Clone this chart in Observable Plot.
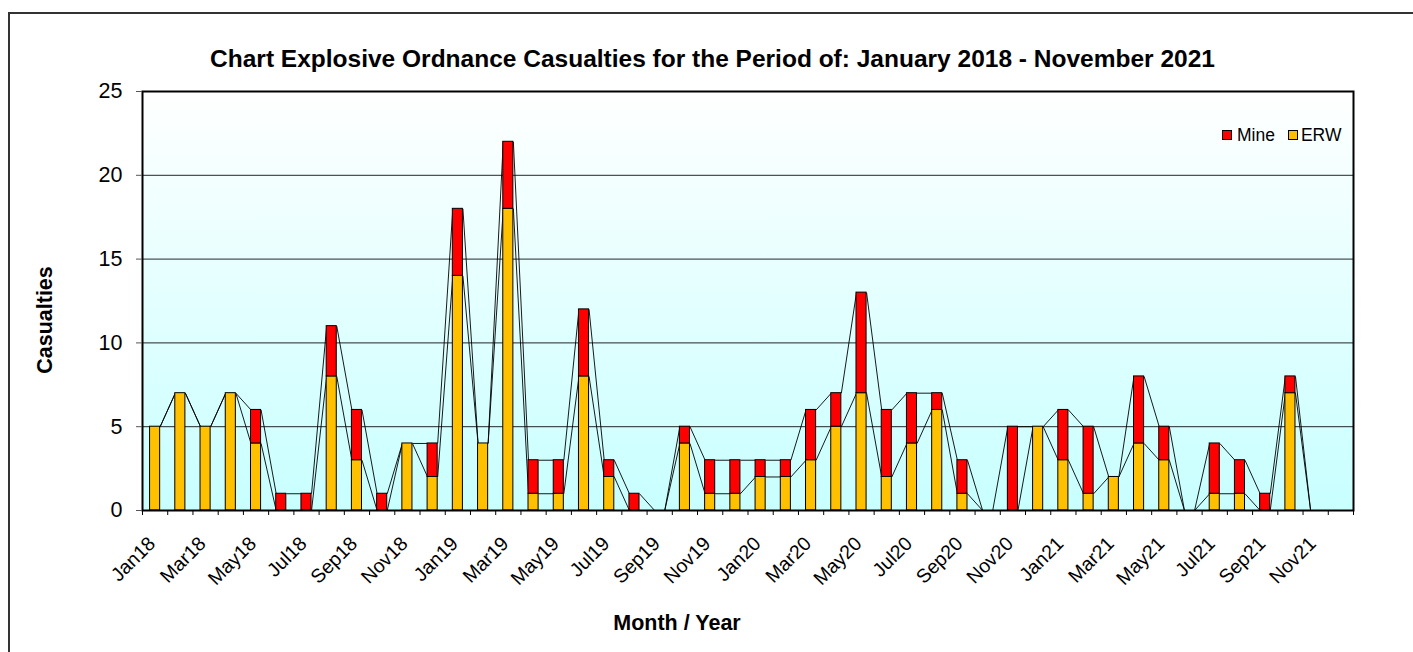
<!DOCTYPE html>
<html><head><meta charset="utf-8">
<script src="https://cdn.jsdelivr.net/npm/d3@7"></script>
<script src="https://cdn.jsdelivr.net/npm/@observablehq/plot@0.6"></script>
<style>
body{margin:0;width:1413px;height:652px;overflow:hidden;background:#fff;font-family:"Liberation Sans",Arial,sans-serif;position:relative}
#frame{position:absolute;left:8px;top:12px;width:1420px;height:660px;border:2px solid #333;box-sizing:border-box}
#title{position:absolute;left:0;width:1425px;top:45px;text-align:center;font-weight:bold;font-size:24.5px;line-height:28px}
#chart{position:absolute;left:0;top:0}
#ylab{position:absolute;left:45px;top:320px;transform:translate(-50%,-50%) rotate(-90deg);font-weight:bold;font-size:21.5px;white-space:nowrap}
#xlab{position:absolute;left:677px;top:623px;transform:translate(-50%,-50%);font-weight:bold;font-size:21.5px;white-space:nowrap}
#legend{position:absolute;left:1222px;top:125px;font-size:17.5px;display:flex;align-items:center;line-height:20px}
.sw{width:8px;height:8px;border:1px solid #000;display:inline-block;margin-right:5px}
</style></head><body>
<div id="frame"></div>
<div id="title">Chart Explosive Ordnance Casualties for the Period of: January 2018 - November 2021</div>
<div id="chart"></div>
<div id="ylab">Casualties</div>
<div id="xlab">Month / Year</div>
<div id="legend"><span class="sw" style="background:#FF0000"></span>Mine<span class="sw" style="background:#FFC000;margin-left:13px;margin-right:3px"></span>ERW</div>
<script>
const months = ["Jan18","Feb18","Mar18","Apr18","May18","Jun18","Jul18","Aug18","Sep18","Oct18","Nov18","Dec18",
  "Jan19","Feb19","Mar19","Apr19","May19","Jun19","Jul19","Aug19","Sep19","Oct19","Nov19","Dec19",
  "Jan20","Feb20","Mar20","Apr20","May20","Jun20","Jul20","Aug20","Sep20","Oct20","Nov20","Dec20",
  "Jan21","Feb21","Mar21","Apr21","May21","Jun21","Jul21","Aug21","Sep21","Oct21","Nov21","Dec21"];
const erw = [5,7,5,7,4,0,0,8,3,0,4,2, 14,4,18,1,1,8,2,0,0,4,1,1, 2,2,3,5,7,2,4,6,1,0,0,5, 3,1,2,4,3,0,1,1,0,7,0,0];
const mine = [0,0,0,0,2,1,1,3,3,1,0,2, 4,0,4,2,2,4,1,1,0,1,2,2, 1,1,3,2,6,4,3,1,2,0,5,0, 3,4,0,4,2,0,3,2,1,1,0,0];
const yTicks = [0,5,10,15,20,25];
const gridValues = [5,10,15,20];

const idx = d3.range(months.length);
const total = idx.map(i => erw[i] + mine[i]);
const half = 0.2;

const background = (index, scales, values, dims) => {
  const g = d3.create("svg:g");
  const lg = g.append("defs").append("linearGradient").attr("id","bggrad")
    .attr("x1",0).attr("y1",0).attr("x2",0).attr("y2",1);
  lg.append("stop").attr("offset","0%").attr("stop-color","#FFFFFF");
  lg.append("stop").attr("offset","100%").attr("stop-color","#C8FFFF");
  g.append("rect").attr("x",dims.marginLeft).attr("y",dims.marginTop)
    .attr("width",dims.width-dims.marginLeft-dims.marginRight)
    .attr("height",dims.height-dims.marginTop-dims.marginBottom)
    .attr("fill","url(#bggrad)");
  return g.node();
};

const pairs = idx.slice(0, -1);
const chart = Plot.plot({
  width: 1413, height: 652,
  marginLeft: 142, marginRight: 60, marginTop: 91, marginBottom: 142,
  style: {background: "transparent", fontFamily: "'Liberation Sans', Arial, sans-serif", color: "#000"},
  x: {type: "linear", domain: [-0.5, months.length - 0.5]},
  y: {domain: [0, 25]},
  marks: [
    background,
    Plot.ruleY(gridValues, {stroke: "#000", strokeOpacity: 0.85}),
    Plot.link(pairs, {x1: i => i + half, y1: i => erw[i], x2: i => i + 1 - half, y2: i => erw[i + 1], stroke: "#000", strokeWidth: 0.9}),
    Plot.link(pairs, {x1: i => i + half, y1: i => total[i], x2: i => i + 1 - half, y2: i => total[i + 1], stroke: "#000", strokeWidth: 0.9}),
    Plot.rectY(idx.filter(i => erw[i] > 0), {x1: i => i - half, x2: i => i + half, y1: i => 0, y2: i => erw[i], fill: "#FFC000", stroke: "#000", strokeWidth: 1}),
    Plot.rectY(idx.filter(i => mine[i] > 0), {x1: i => i - half, x2: i => i + half, y1: i => erw[i], y2: i => total[i], fill: "#FF0000", stroke: "#000", strokeWidth: 1}),
    Plot.frame({stroke: "#000", strokeWidth: 2}),
    Plot.axisY({ticks: yTicks, tickSize: 6, tickPadding: 14, fontSize: 21.5, label: null, stroke: "#555"}),
    Plot.axisX({ticks: d3.range(-0.5, months.length, 1), tickSize: 5, tickFormat: () => "", label: null}),
    Plot.axisX({ticks: d3.range(0, months.length, 2), tickSize: 0, tickPadding: 30, tickRotate: -45, fontSize: 19.5, dx: -3, tickFormat: i => months[i], label: null})
  ]
});
document.getElementById("chart").append(chart);
</script>
</body></html>
